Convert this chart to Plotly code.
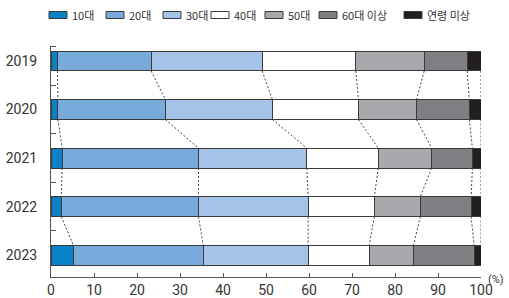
import numpy as np
import plotly.graph_objects as go

years = ["2019", "2020", "2021", "2022", "2023"]
groups = ["10대", "20대", "30대", "40대", "50대", "60대 이상", "연령 미상"]
v_10s = [1.5, 1.6, 2.6, 2.4, 5.2]
v_20s = [21.8, 25.0, 31.7, 31.9, 30.2]
v_30s = [25.8, 24.9, 25.2, 25.5, 24.4]
v_40s = [21.8, 20.0, 16.6, 15.4, 14.2]
v_50s = [15.9, 13.5, 12.4, 10.7, 10.3]
v_60s = [10.0, 12.3, 9.5, 11.8, 14.1]
v_unk = [3.2, 2.7, 2.0, 2.3, 1.6]
x_ticks = [0, 10, 20, 30, 40, 50, 60, 70, 80, 90, 100]

series = [v_10s, v_20s, v_30s, v_40s, v_50s, v_60s, v_unk]
colors = ["#0a80c6", "#78aadb", "#a5c3e6", "#ffffff", "#a8a9ac", "#7f8084", "#231f20"]

NUM_FONT = "Roboto, sans-serif"
KR_FONT = "Noto Sans CJK KR, Noto Sans, sans-serif"
BAR_W = 0.41
ypos = list(range(len(years)))

fig = go.Figure()
for name, vals, col in zip(groups, series, colors):
    fig.add_trace(go.Bar(
        x=vals, y=ypos, orientation="h", name=name, width=BAR_W,
        marker=dict(color=col, line=dict(color="#3a3a3a", width=1)),
        showlegend=False, hoverinfo="x+name",
    ))

# dashed connector lines between consecutive bars
cum = np.cumsum(np.array(series), axis=0)  # shape (groups, years)
lx, ly = [], []
for k in range(cum.shape[0]):
    for i in range(len(years) - 1):
        lx += [cum[k, i], cum[k, i + 1], None]
        ly += [ypos[i] + BAR_W / 2, ypos[i + 1] - BAR_W / 2, None]
fig.add_trace(go.Scatter(
    x=lx, y=ly, mode="lines", showlegend=False, hoverinfo="skip", cliponaxis=False,
    line=dict(color="#444444", width=1, dash="2px,2px"),
))

# manual legend (rectangular swatches like the reference)
L, R, T, B = 51, 28, 46, 21
W, H = 509, 298
pw, ph = W - L - R, H - T - B
def px(x):
    return (x - L) / pw
def py(y):
    return (H - B - y) / ph
leg_x = [49, 106, 163, 211, 265, 319, 404]
shapes, annos = [], []
for xs, name, col in zip(leg_x, groups, colors):
    shapes.append(dict(type="rect", xref="paper", yref="paper",
                       x0=px(xs), x1=px(xs + 18), y0=py(18.5), y1=py(11.5),
                       fillcolor=col, line=dict(color="#3a3a3a", width=1)))
    annos.append(dict(xref="paper", yref="paper", x=px(xs + 21), y=py(15),
                      text=name, showarrow=False, xanchor="left", yanchor="middle",
                      font=dict(family=KR_FONT, size=11, color="#333333")))
annos.append(dict(xref="paper", yref="paper", x=px(486), y=py(279), text="(%)",
                  showarrow=False, xanchor="left", yanchor="middle",
                  font=dict(family=NUM_FONT, size=11, color="#333333")))

fig.update_layout(
    barmode="stack", width=W, height=H,
    margin=dict(l=L, r=R, t=T, b=B, pad=0, autoexpand=False),
    paper_bgcolor="white", plot_bgcolor="white",
    shapes=shapes, annotations=annos,
    font=dict(family=NUM_FONT, size=14, color="#333333"),
)
fig.update_xaxes(
    range=[0, 100], tickvals=x_ticks, ticks="inside", ticklen=4, tickcolor="#555555",
    showline=True, linecolor="#555555", linewidth=1, showgrid=False, zeroline=False,
    automargin=False,
    tickfont=dict(family=NUM_FONT, size=14, color="#333333"),
)
fig.update_yaxes(
    range=[4.45, -0.31], tickvals=ypos, ticktext=years, ticks="",
    showline=True, linecolor="#555555", linewidth=1, showgrid=False, zeroline=False,
    automargin=False, ticklabelstandoff=10,
    tickfont=dict(family=NUM_FONT, size=14, color="#333333"),
    minor=dict(tickvals=[-0.3, 0.5, 1.5, 2.5, 3.5], ticks="inside", ticklen=5,
               tickcolor="#555555", showgrid=False),
)
fig.write_html("out.html", config={"displayModeBar": False},
               post_script="document.body.style.margin='0';document.body.style.overflow='hidden';")
